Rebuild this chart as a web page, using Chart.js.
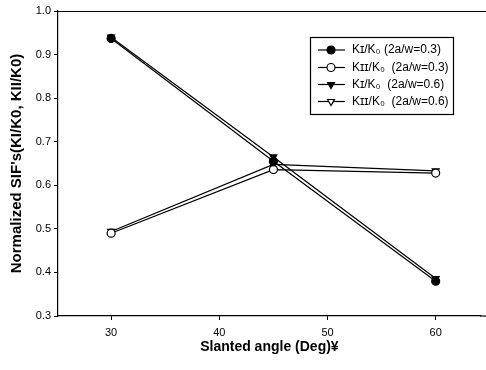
<!DOCTYPE html>
<html><head><meta charset="utf-8">
<script src="https://cdn.jsdelivr.net/npm/chart.js@4/dist/chart.umd.min.js"></script>
<style>html,body{margin:0;padding:0;background:#fff;overflow:hidden;}#wrap{width:486px;height:370px;position:relative;}</style>
</head><body><div id="wrap"><canvas id="c" width="486" height="370"></canvas></div>
<script>
const angles = [30, 45, 60];
const kI_03 = [0.937, 0.655, 0.380];
const kII_03 = [0.490, 0.636, 0.628];
const kI_06 = [0.940, 0.665, 0.386];
const kII_06 = [0.494, 0.648, 0.633];
const xTicks = [30, 40, 50, 60];
const yTicks = [0.3, 0.4, 0.5, 0.6, 0.7, 0.8, 0.9, 1.0];
const seriesLabels = ["Kɪ/K₀ (2a/w=0.3)", "Kɪɪ/K₀  (2a/w=0.3)", "Kɪ/K₀  (2a/w=0.6)", "Kɪɪ/K₀  (2a/w=0.6)"];

const FONT = "'Liberation Sans', Arial, sans-serif";
function pts(arr){ return angles.map((a,i)=>({x:a,y:arr[i]})); }
const styles = [
  {pointStyle:'circle', fill:'#000', rot:0},
  {pointStyle:'circle', fill:'#fff', rot:0},
  {pointStyle:'triangle', fill:'#000', rot:180},
  {pointStyle:'triangle', fill:'#fff', rot:180}
];
const dataArr = [kI_03, kII_03, kI_06, kII_06];
const datasets = dataArr.map((d,i)=>({
  label: seriesLabels[i], data: pts(d),
  borderColor:'#000', borderWidth:1.2, backgroundColor: styles[i].fill,
  pointStyle: styles[i].pointStyle, pointRotation: styles[i].rot,
  pointRadius: 4, pointBorderColor:'#000', pointBorderWidth:1.2,
  pointBackgroundColor: styles[i].fill, tension:0
}));

const legendPlugin = {
  id:'customLegend',
  afterDraw(chart){
    const ctx = chart.ctx;
    const ca = chart.chartArea;
    const W = chart.width;
    ctx.save();
    ctx.strokeStyle='#000'; ctx.lineWidth=1.2;
    // top frame line and extension of bottom axis to canvas edge
    ctx.beginPath(); ctx.moveTo(ca.left, ca.top+0.5); ctx.lineTo(W, ca.top+0.5); ctx.stroke();
    ctx.beginPath(); ctx.moveTo(ca.right-1, ca.bottom); ctx.lineTo(W, ca.bottom); ctx.stroke();
    const bx=310.5, by=37.5, bw=143, bh=77;
    ctx.strokeRect(bx,by,bw,bh);
    ctx.font = "12px " + FONT;
    ctx.textBaseline='middle'; ctx.fillStyle='#000';
    const rows=[50,67.5,84.5,101.5];
    rows.forEach((ry,i)=>{
      ctx.beginPath(); ctx.lineWidth=1.2; ctx.strokeStyle='#000';
      ctx.moveTo(318,ry); ctx.lineTo(345,ry); ctx.stroke();
      ctx.fillStyle=styles[i].fill;
      Chart.helpers.drawPoint(ctx,{pointStyle:styles[i].pointStyle, rotation:styles[i].rot, radius:4, borderWidth:1.2}, 331, ry);
      ctx.fillStyle='#000';
      ctx.fillText(seriesLabels[i], 352, ry);
    });
    ctx.restore();
  }
};

new Chart(document.getElementById('c'), {
  type:'line',
  data:{datasets},
  options:{
    responsive:false, animation:false, devicePixelRatio:1,
    layout:{padding:{top:11,right:0,left:0,bottom:0}},
    plugins:{legend:{display:false}, tooltip:{enabled:false}},
    scales:{
      x:{type:'linear', min:25.09, max:64.17,
        afterBuildTicks(s){ s.ticks = xTicks.map(v=>({value:v})); },
        afterFit(s){ s.height = 54; },
        grid:{display:true, drawOnChartArea:false, drawTicks:true, tickLength:4, color:'#000', lineWidth:1},
        border:{display:true, color:'#000', width:1.2},
        ticks:{color:'#000', font:{family:FONT, size:11}, padding:6, maxRotation:0,
          callback:v=>String(v)},
        title:{display:true, text:'Slanted angle (Deg)¥', color:'#000', font:{family:FONT, size:14, weight:'bold'}, padding:{top:4,bottom:14}}
      },
      y:{type:'linear', min:0.3, max:1.0,
        afterBuildTicks(s){ s.ticks = yTicks.map(v=>({value:v})); },
        afterFit(s){ s.width = 58; },
        grid:{display:true, drawOnChartArea:false, drawTicks:true, tickLength:4, color:'#000', lineWidth:1},
        border:{display:true, color:'#000', width:1.2},
        ticks:{color:'#000', font:{family:FONT, size:11}, padding:3, callback:v=>Number(v).toFixed(1)},
        title:{display:true, text:"Normalized SIF's(KI/K0, KII/K0)", color:'#000', font:{family:FONT, size:15, weight:'bold'}, padding:{top:8,bottom:4}}
      }
    }
  },
  plugins:[legendPlugin]
});
</script></body></html>
